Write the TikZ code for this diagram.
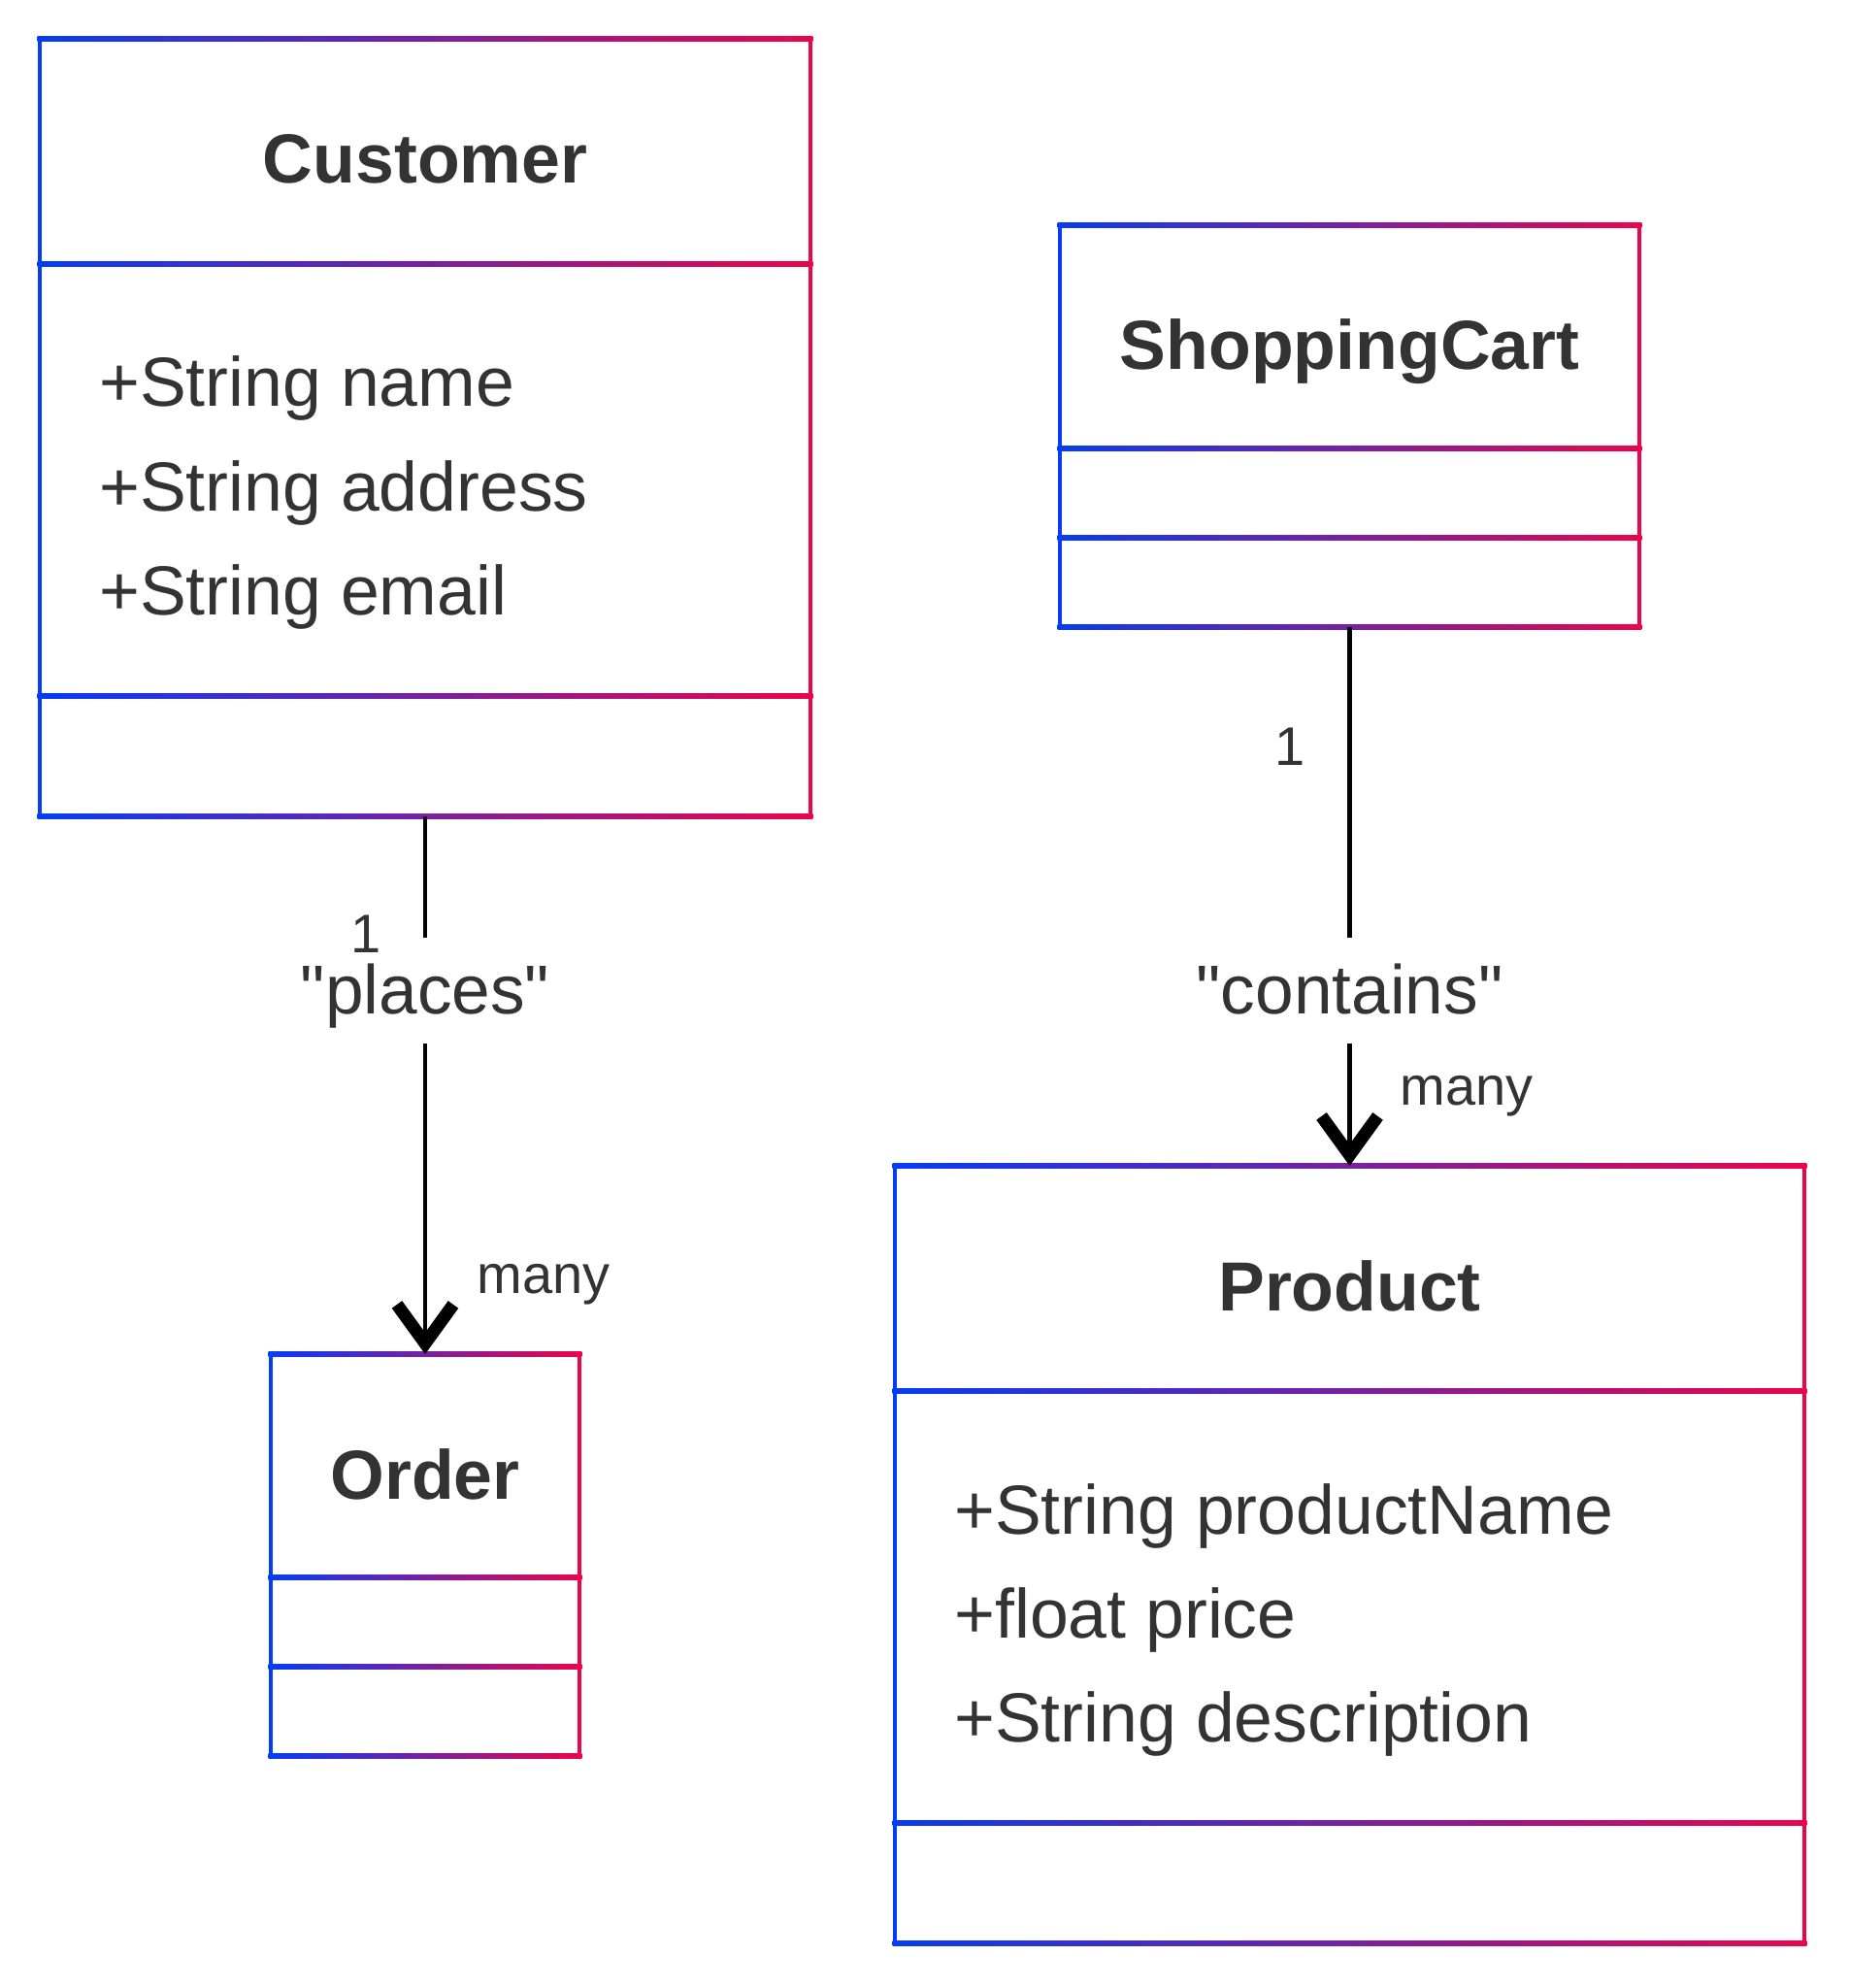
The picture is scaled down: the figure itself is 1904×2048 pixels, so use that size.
\documentclass[tikz,border=0pt]{standalone}
\usepackage{fontspec}
\setmainfont{Liberation Sans}
\usetikzlibrary{arrows.meta}

\definecolor{umlblue}{RGB}{5,60,245}
\definecolor{umlred}{RGB}{235,5,75}
\definecolor{umltext}{RGB}{51,51,51}

% frame of a class: x left, x right, y top, y bottom, two dividers
\newcommand{\umlframe}[6]{%
  \fill[umlblue] ({#1-2.4},{#3-2.4}) rectangle ({#1+2.4},{#4+2.4});
  \fill[umlred] ({#2-2.4},{#3-2.4}) rectangle ({#2+2.4},{#4+2.4});
  \foreach \yy in {#3,#5,#6,#4}
    \shade[left color=umlblue, right color=umlred] ({#1-2.4},{\yy-2.4}) rectangle ({#2+2.4},{\yy+2.4});
}

\begin{document}
\begin{tikzpicture}[x=0.5pt, y=-0.5pt,
    classbox/.style={rectangle, inner sep=0pt, outer sep=0pt},
    classname/.style={anchor=base, inner sep=0pt, text=umltext, font=\fontsize{35.8}{40}\selectfont\bfseries},
    attr/.style={anchor=base west, inner sep=0pt, text=umltext, font=\fontsize{35.8}{40}\selectfont},
    rellabel/.style={anchor=base, fill=white, inner xsep=4pt, inner ysep=0pt, text height=39pt, text depth=15.5pt, text=umltext, font=\fontsize{35.6}{40}\selectfont},
    multlabel/.style={inner sep=0pt, text=umltext, font=\fontsize{28}{32}\selectfont},
    assoc/.style={line width=2.4pt, -{Straight Barb[length=20pt, width=29pt, line width=6.5pt]}}]
    \useasboundingbox (0,0) rectangle (1904,2048);

    \node[classbox, minimum width=397pt, minimum height=400.5pt] (customer) at (438,440.5) {};
    \node[classbox, minimum width=159pt, minimum height=207pt] (order) at (438,1602) {};
    \node[classbox, minimum width=298.5pt, minimum height=207pt] (cart) at (1390.5,439) {};
    \node[classbox, minimum width=468.5pt, minimum height=400.5pt] (product) at (1390.5,1601.5) {};

    \umlframe{41}{835}{40}{841}{272}{717}
    \umlframe{279}{597}{1395}{1809}{1625}{1717}
    \umlframe{1092}{1689}{232}{646}{462}{554}
    \umlframe{922}{1859}{1201}{2002}{1433}{1878}

    \node[classname] (customername) at (438,189) {Customer};
    \node[classname] (ordername) at (438,1544) {Order};
    \node[classname] (cartname) at (1390.5,381) {ShoppingCart};
    \node[classname] (productname) at (1390.5,1350) {Product};

    \node[attr] (custname) at (102,419) {+String name};
    \node[attr] (custaddress) at (102,526) {+String address};
    \node[attr] (custemail) at (102,633) {+String email};
    \node[attr] (prodname) at (983,1580) {+String productName};
    \node[attr] (prodprice) at (983,1687) {+float price};
    \node[attr] (proddescr) at (983,1794) {+String description};

    % associations
    \draw[assoc] (customer.south) -- (order.north);
    \draw[assoc] (cart.south) -- (product.north);
    \node[rellabel] (places) at (438,1044) {\textquotedbl places\textquotedbl};
    \node[rellabel] (contains) at (1390.5,1044) {\textquotedbl contains\textquotedbl};

    \node[multlabel, anchor=base] (custone) at (377,981) {1};
    \node[multlabel, anchor=base] (cartone) at (1329,788) {1};
    \node[multlabel, anchor=base west] (ordermany) at (491,1332) {many};
    \node[multlabel, anchor=base west] (productmany) at (1442.5,1138) {many};
\end{tikzpicture}
\end{document}
